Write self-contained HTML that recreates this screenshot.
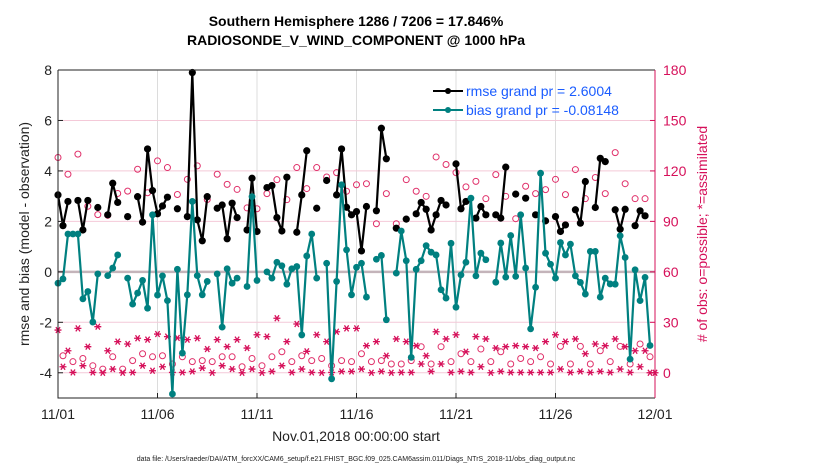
<!DOCTYPE html>
<html><head><meta charset="utf-8"><style>
html,body{margin:0;padding:0;background:#fff;}
svg{display:block;font-family:"Liberation Sans",sans-serif;}
</style></head><body>
<svg id="chart" width="830" height="470" viewBox="0 0 830 470" xmlns="http://www.w3.org/2000/svg">
<text x="356" y="26" text-anchor="middle" font-size="14" font-weight="bold">Southern Hemisphere 1286 / 7206 = 17.846%</text>
<text x="356" y="45" text-anchor="middle" font-size="14" font-weight="bold">RADIOSONDE_V_WIND_COMPONENT @ 1000 hPa</text>
<g id="grid"></g>
<g id="marks"></g>
<g id="axes"></g>
<text transform="translate(29,234) rotate(-90)" text-anchor="middle" font-size="14" fill="#222">rmse and bias (model - observation)</text>
<text transform="translate(707,234) rotate(-90)" text-anchor="middle" font-size="14" fill="#d6105a"># of obs: o=possible; *=assimilated</text>
<text x="356" y="441" text-anchor="middle" font-size="14" fill="#222">Nov.01,2018 00:00:00 start</text>
<text x="356" y="461" text-anchor="middle" font-size="7" fill="#222">data file: /Users/raeder/DAI/ATM_forcXX/CAM6_setup/f.e21.FHIST_BGC.f09_025.CAM6assim.011/Diags_NTrS_2018-11/obs_diag_output.nc</text>
<g id="legend">
 <g>
  <line x1="433" y1="91" x2="463" y2="91" stroke="#000" stroke-width="2"/>
  <circle cx="448" cy="91" r="3" fill="#000"/>
  <text x="466" y="96" font-size="14" fill="#1a5cff">rmse grand pr = 2.6004</text>
 </g>
 <g>
  <line x1="433" y1="110" x2="463" y2="110" stroke="#008080" stroke-width="2"/>
  <circle cx="448" cy="110" r="3" fill="#008080"/>
  <text x="466" y="115" font-size="14" fill="#1a5cff">bias grand pr = -0.08148</text>
 </g>
</g>
</svg>
<script>
const N=null;
const xTickLabels=["11/01","11/06","11/11","11/16","11/21","11/26","12/01"];
const xTickDays=[0,5,10,15,20,25,30];
const yTicks=[-4,-2,0,2,4,6,8];
const yRightTicks=[0,30,60,90,120,150,180];
const rmse=[3.05,1.83,2.79,N,2.83,1.66,2.83,N,2.55,N,2.26,3.51,2.75,N,2.19,N,2.98,1.97,4.87,3.22,2.30,2.61,2.96,N,2.5,N,2.19,7.9,2.06,1.23,2.98,N,2.52,2.65,1.31,2.72,2.15,N,1.66,3.71,1.6,N,3.34,3.42,2.15,1.62,3.75,N,1.57,3.05,4.8,N,2.52,N,3.62,N,3.05,4.87,2.56,2.26,2.39,0.83,2.59,N,2.42,5.69,4.48,N,1.73,N,2.09,N,2.3,2.75,2.48,1.66,2.26,2.83,2.65,N,4.28,2.5,2.79,N,2.13,2.59,2.26,N,2.26,2.13,4.15,N,3.08,N,2.92,N,2.26,N,2.02,N,2.19,1.6,1.86,N,2.46,1.93,3.58,N,2.55,4.5,4.37,N,2.46,1.69,2.48,N,1.83,2.42,2.22,N,N];
const bias=[-0.45,-0.28,1.5,1.5,1.5,-1.07,-0.78,-1.99,-0.08,N,-0.15,0.15,0.67,N,-0.25,-1.28,-0.84,-0.34,-1.44,2.26,-0.92,-0.16,-1.14,-4.84,0.1,-3.22,-0.91,2.79,-0.15,-0.91,-0.38,N,-0.08,-2.19,0.12,-0.45,-0.25,N,-0.58,2.98,-0.34,N,0,-0.25,0.38,0.24,-0.49,0.12,0.21,-2.5,0.63,1.5,-0.25,N,0.34,-4.24,-0.38,3.45,0.87,-0.91,0.18,0.34,-1.0,N,0.5,0.65,-1.9,N,-0.05,1.62,0.44,-3.39,0.1,0.44,1.04,0.78,0.67,-0.71,-1.04,1.13,-1.4,-0.12,0.38,2.92,-0.16,0.74,0.48,N,-0.41,1.14,-0.21,1.44,-0.18,2.26,0.15,-2.26,-0.61,3.91,0.74,0.3,-0.25,1.16,0.67,1.1,-0.16,-0.42,-0.88,0.81,0.81,-1.0,-0.25,-0.48,-0.49,1.43,0.57,-3.46,0.08,-1.14,-0.22,-2.92,N];
const possible=[128,10.1,118,6.6,130,8.5,99,4.2,94,2.2,93.6,9.5,106.6,2.2,108,7.2,121,11.3,107,9.5,126,10.1,122,5.2,106,9.5,115,6.6,123,7.2,103,6.6,118,9.5,112,9.5,109,3.6,98,8.5,97.5,4.2,106.5,9.5,114.8,12.5,102.9,6.6,122,10.1,109.5,7.2,122,8.5,116.4,4.2,119,7.2,107.9,6.6,111.8,11.3,112.4,6.6,88.6,7.2,106.5,5.2,88.6,5.2,114.8,7.2,107.9,15.5,104.9,5.2,128.3,15.5,123.8,6.6,119,11.3,110.5,6.6,113.8,14.1,103.5,6.6,117.8,12.5,104.9,5.2,91.6,8.5,110.9,6.6,106.5,9.5,108.9,5.2,115,15.7,105.9,5.2,120.8,15.7,103.5,5.2,116.1,13.1,106.5,6.6,130.9,15.7,112.4,5.2,103.5,17.1,103.5,9.5,N];
const assimilated=[25.4,3.6,13.1,0.2,26.4,4.2,15.5,0.2,27.4,0,13.1,2.2,18.5,0,17.1,0.2,20.5,4.2,19.7,1.2,23,3.6,21.5,0.2,20.7,0.2,19.7,0.8,20.5,2.8,14.1,0,19.7,4.2,15.5,2.2,19.7,0,14.7,2.2,22.6,0,21.5,0.8,32.4,4.2,18.5,0.2,29,2.2,12.7,0.2,22.6,0,18.5,0.2,24.4,0.8,26.4,0.8,26.4,2.2,16.1,0,18.5,0.8,10.1,0,20.1,0.2,18.5,0.2,16.1,5.2,10.1,0.8,24.4,5.2,20.1,0.2,22.6,0.8,12.5,0.2,21.5,3.6,20.1,0,14.7,0.8,15.5,0.2,16.1,0.2,15.5,0.2,14.7,0.2,18.5,0.2,22.6,2.2,18.5,0.2,20.1,0.8,11.3,0.2,17.1,0.8,16.1,0.2,20.1,2.2,15.5,0.2,13.1,3.6,13.1,0,0];
const stepDays=0.25;

const L=58,R=655,T=70,B=398;
const xs=d=>L+d*(R-L)/30;
const ys=v=>T+(8-v)*(B-T)/13;
const yr=c=>ys(c/15-4);
const NS="http://www.w3.org/2000/svg";
function mk(tag,attrs,parent){const e=document.createElementNS(NS,tag);for(const k in attrs)e.setAttribute(k,attrs[k]);parent.appendChild(e);return e;}
const grid=document.getElementById('grid'),marks=document.getElementById('marks'),axes=document.getElementById('axes');
xTickDays.forEach((d,i)=>{
 const g=mk('line',{x1:xs(d),x2:xs(d),y1:T,y2:B,stroke:'#dcdcdc','stroke-width':1},grid);
 
 
 const t=mk('line',{x1:xs(d),x2:xs(d),y1:B,y2:B-5,stroke:'#222'},axes);
 
 
 const lb=mk('text',{x:xs(d),y:B+21,'text-anchor':'middle','font-size':14,fill:'#222'},axes);
 lb.textContent=xTickLabels[i];
 
 
});
yTicks.forEach(v=>{
 if(v!==8){const g=mk('line',{x1:L,x2:R,y1:ys(v),y2:ys(v),stroke:'#f4c9d8','stroke-width':1},grid);
 
 }
 const lb=mk('text',{x:52,y:ys(v)+5,'text-anchor':'end','font-size':14,fill:'#222'},axes);
 lb.textContent=String(v);
 
 
 const t=mk('line',{x1:L,x2:L+5,y1:ys(v),y2:ys(v),stroke:'#222'},axes);
 
 
});
const zl=mk('line',{x1:L,x2:R,y1:ys(0),y2:ys(0),stroke:'#c4b4ba','stroke-width':2.5},grid);


yRightTicks.forEach(c=>{
 const lb=mk('text',{x:663,y:yr(c)+5,'font-size':14,fill:'#d6105a'},axes);
 lb.textContent=String(c);
 
 
 const t=mk('line',{x1:R-5,x2:R,y1:yr(c),y2:yr(c),stroke:'#d6105a'},axes);
 
 
});
const bl=mk('path',{d:`M${L},${T}V${B}H${R}M${L},${T}H${R}`,fill:'none',stroke:'#222','stroke-width':1},axes);


const rl=mk('line',{x1:R,x2:R,y1:T,y2:B,stroke:'#d6105a','stroke-width':1},axes);



const xi=i=>xs(i*stepDays);
// obs counts
possible.forEach((c,i)=>{
 if(c===null)return;
 const e=mk('circle',{cx:xi(i),cy:yr(c),r:3,fill:'none',stroke:'#e0306a','stroke-width':1},marks);
 
 
});
assimilated.forEach((c,i)=>{
 if(c===null)return;
 const x=xi(i),y=yr(c),s=3.5;
 const e=mk('path',{d:`M${x-s},${y}H${x+s}M${x-s*0.6},${y-s*0.85}L${x+s*0.6},${y+s*0.85}M${x-s*0.6},${y+s*0.85}L${x+s*0.6},${y-s*0.85}`,stroke:'#d6105a','stroke-width':1.3,fill:'none'},marks);
 
 
});
function series(arr,color,name,r){
 let d='';let pen=false;
 arr.forEach((v,i)=>{if(v===null){pen=false;return;}d+=(pen?'L':'M')+xi(i).toFixed(1)+','+ys(v).toFixed(1);pen=true;});
 const p=mk('path',{d:d,fill:'none',stroke:color,'stroke-width':2.2,'stroke-linejoin':'round'},marks);
 
 
 arr.forEach((v,i)=>{if(v===null)return;
  const c=mk('circle',{cx:xi(i),cy:ys(v),r:r,fill:color},marks);
  
  
 });
}
series(rmse,'#000','rmse',3.6);
series(bias,'#008080','bias',3.4);
</script>
</body></html>
